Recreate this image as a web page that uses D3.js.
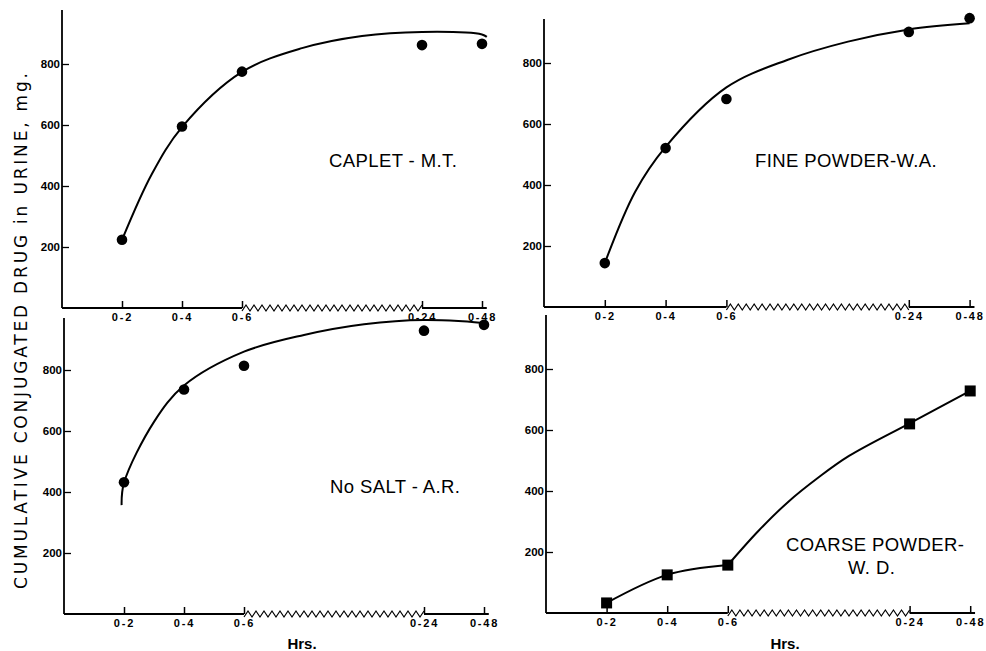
<!DOCTYPE html>
<html>
<head>
<meta charset="utf-8">
<script src="https://cdn.jsdelivr.net/npm/d3@7"></script>
<style>
  body { margin: 0; background: #fff; }
  text { fill: #000; }
</style>
</head>
<body>
<div id="chart"></div>
<script>
// Collection intervals (hrs) and their slot on the broken x axis
const intervals = ["0-2", "0-4", "0-6", "0-24", "0-48"];
const slots = [1, 2, 3, 6, 7];
const yTicks = [200, 400, 600, 800];

// Measured points (mg)
const capletPoints = [224, 595, 775, 862, 866];
const finePoints = [144, 521, 682, 902, 947];
const noSaltPoints = [432, 736, 814, 929, 948];
const coarsePoints = [33, 125, 157, 620, 728];

// Hand-drawn fitted curves, as pieces of [slot, mg]
const capletCurve = [[[1, 223], [1.5, 440], [2, 593], [3, 774], [4, 852], [5, 892], [6, 905], [7, 897], [7.08, 889]]];
const fineCurve = [[[1, 144], [1.5, 378], [2, 525], [3, 720], [4, 810], [5, 870], [6, 910], [7, 930]]];
const noSaltCurve = [[[0.96, 357], [1, 430], [1.5, 630], [2, 749], [3, 860], [4, 915], [5, 950], [6, 964], [7, 953], [7.07, 948]]];
const coarseCurve = [
  [[1, 33], [2, 125], [3, 157]],
  [[3, 157], [3.5, 268], [4, 365], [4.5, 445], [5, 515], [6, 622], [7, 728]]
];

const panels = [
  { left: 62, step: 60, base: 308, top: 10, label: ["CAPLET - M.T."], lx: 329, ly: 167, points: capletPoints, curve: capletCurve, marker: "circle" },
  { left: 544, step: 60.8, base: 307, top: 19, label: ["FINE POWDER-W.A."], lx: 755, ly: 167, points: finePoints, curve: fineCurve, marker: "circle" },
  { left: 64, step: 60, base: 614, top: 318, label: ["No SALT - A.R."], lx: 330, ly: 493, points: noSaltPoints, curve: noSaltCurve, marker: "circle", hrs: 302 },
  { left: 546, step: 60.6, base: 613, top: 315, label: ["COARSE POWDER-", "W. D."], lx: 786, ly: 551, points: coarsePoints, curve: coarseCurve, marker: "square", hrs: 785 }
];

const font = "Liberation Sans, Arial, sans-serif";

const svg = d3.select("#chart").append("svg")
  .attr("width", 986)
  .attr("height", 651);

panels.forEach(p => {
  const x = d3.scaleLinear().domain([0, 7]).range([p.left, p.left + 7 * p.step]);
  const y = d3.scaleLinear().domain([0, 1000]).range([p.base, p.base - 305]);
  const g = svg.append("g");

  // y axis (ticks point inward)
  const ya = g.append("g")
    .attr("transform", `translate(${p.left},0)`)
    .call(d3.axisLeft(y).tickValues(yTicks).tickSizeInner(-7).tickSizeOuter(0).tickPadding(2));
  ya.select(".domain").remove();
  ya.selectAll("line").attr("stroke-width", 1.3);
  ya.selectAll("text")
    .attr("font-family", font)
    .attr("font-weight", "bold")
    .attr("font-size", 11.5);
  g.append("line")
    .attr("x1", p.left).attr("x2", p.left)
    .attr("y1", y(0)).attr("y2", p.top)
    .attr("stroke", "#000").attr("stroke-width", 1.8);

  // x axis with break between 0-6 and 0-24
  const xa = g.append("g")
    .attr("transform", `translate(0,${y(0)})`)
    .call(d3.axisBottom(x).tickValues(slots)
      .tickFormat((d, i) => intervals[i])
      .tickSizeInner(-7).tickSizeOuter(0).tickPadding(5));
  xa.select(".domain").remove();
  xa.selectAll("line").attr("stroke-width", 1.5);
  xa.selectAll("text")
    .attr("font-family", font)
    .attr("font-weight", "bold")
    .attr("font-size", 11)
    .attr("letter-spacing", "1.8px");

  const y0 = y(0);
  g.append("line")
    .attr("x1", p.left).attr("x2", x(3))
    .attr("y1", y0).attr("y2", y0)
    .attr("stroke", "#000").attr("stroke-width", 2);
  g.append("line")
    .attr("x1", x(6)).attr("x2", x(7.08))
    .attr("y1", y0).attr("y2", y0)
    .attr("stroke", "#000").attr("stroke-width", 2);

  // zigzag break
  const zx0 = x(3), zx1 = x(6);
  const n = Math.round((zx1 - zx0) / 4);
  const zig = d3.range(n + 1).map(i => [zx0 + i * (zx1 - zx0) / n, y0 + (i % 2 ? -3 : 3)]);
  g.append("path")
    .attr("d", d3.line()(zig))
    .attr("fill", "none")
    .attr("stroke", "#000")
    .attr("stroke-width", 1.2);

  // fitted curve
  const curveLine = d3.line()
    .x(d => x(d[0]))
    .y(d => y(d[1]))
    .curve(d3.curveCatmullRom.alpha(0.5));
  p.curve.forEach(piece => {
    g.append("path")
      .datum(piece)
      .attr("d", curveLine)
      .attr("fill", "none")
      .attr("stroke", "#000")
      .attr("stroke-width", 2)
      .attr("stroke-linejoin", "round");
  });

  // markers
  const pts = p.points.map((v, i) => [slots[i], v]);
  if (p.marker === "circle") {
    g.selectAll("circle.pt").data(pts).join("circle")
      .attr("class", "pt")
      .attr("cx", d => x(d[0])).attr("cy", d => y(d[1]))
      .attr("r", 5.3)
      .attr("fill", "#000");
  } else {
    g.selectAll("rect.pt").data(pts).join("rect")
      .attr("class", "pt")
      .attr("x", d => x(d[0]) - 5.5).attr("y", d => y(d[1]) - 5.5)
      .attr("width", 11).attr("height", 11)
      .attr("fill", "#000");
  }

  // panel label
  p.label.forEach((t, i) => {
    g.append("text")
      .attr("x", i === 0 ? p.lx : p.lx + 62)
      .attr("y", p.ly + i * 23)
      .attr("font-family", font)
      .attr("font-size", 18.5)
      .attr("letter-spacing", "0.4px")
      .text(t);
  });

  if (p.hrs) {
    g.append("text")
      .attr("x", p.hrs).attr("y", 649)
      .attr("text-anchor", "middle")
      .attr("font-family", font)
      .attr("font-weight", "bold")
      .attr("font-size", 15)
      .text("Hrs.");
  }
});

// shared y label
svg.append("text")
  .attr("transform", "translate(27,331) rotate(-90)")
  .attr("text-anchor", "middle")
  .attr("font-family", "DejaVu Sans, sans-serif")
  .attr("font-size", 17)
  .attr("textLength", 516)
  .attr("lengthAdjust", "spacing")
  .text("CUMULATIVE CONJUGATED DRUG in URINE, mg.");
</script>
</body>
</html>
